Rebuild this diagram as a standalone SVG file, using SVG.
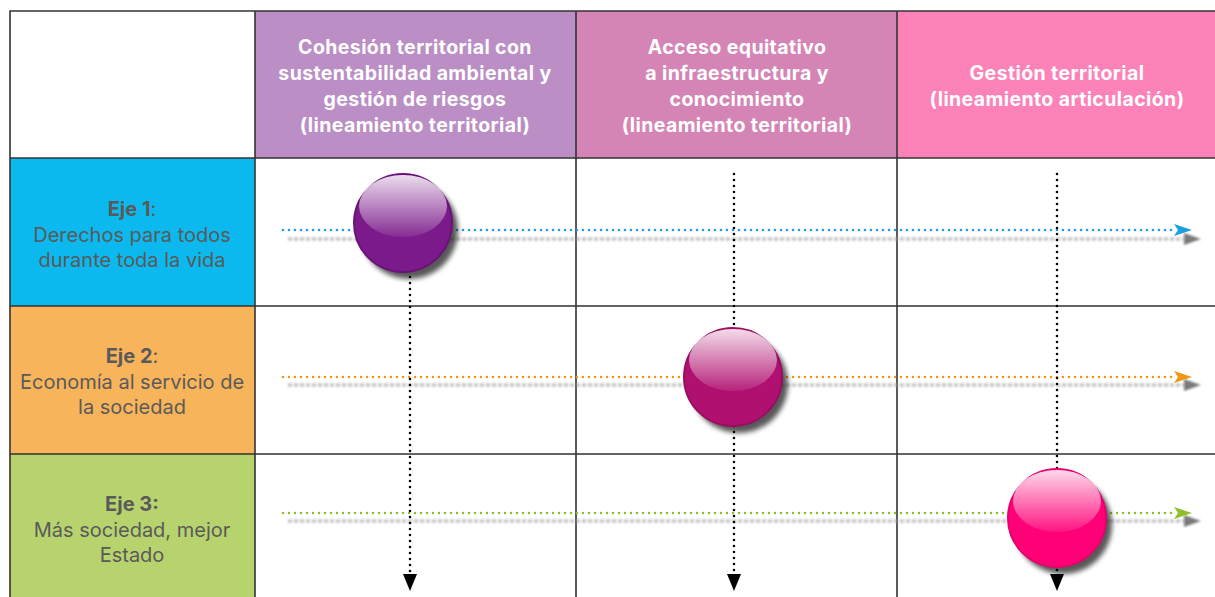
<svg xmlns="http://www.w3.org/2000/svg" width="1215" height="597" viewBox="0 0 1215 597">
<style>
.grid{stroke:#333;stroke-width:1.6;fill:none}
.hd{font-family:Inter,"Liberation Sans",sans-serif;font-weight:700;font-size:19.5px;letter-spacing:0.4px;fill:#fff;text-anchor:middle}
.ax{font-family:Inter,"Liberation Sans",sans-serif;font-size:20px;fill:#5a5a5a;text-anchor:middle}
.ax .b{font-weight:700}
.dot{fill:none;stroke-width:2.6;stroke-linecap:round;stroke-dasharray:0 6}
</style>
<defs>
<filter id="blur" x="-5%" y="-200%" width="110%" height="500%"><feGaussianBlur stdDeviation="1.2"/></filter>
<filter id="ds" x="-30%" y="-30%" width="160%" height="160%"><feGaussianBlur stdDeviation="2.5"/></filter>
<linearGradient id="gl" x1="0" y1="0" x2="0" y2="1">
<stop offset="0" stop-color="#fff" stop-opacity="0.85"/>
<stop offset="1" stop-color="#fff" stop-opacity="0.08"/>
</linearGradient>
<marker id="mb" markerWidth="20" markerHeight="14" refX="2" refY="6" orient="auto" markerUnits="userSpaceOnUse"><path d="M0,0 L18,6 L0,12 L4,6 Z" fill="#1a9fe0"/></marker>
<marker id="mo" markerWidth="20" markerHeight="14" refX="2" refY="6" orient="auto" markerUnits="userSpaceOnUse"><path d="M0,0 L18,6 L0,12 L4,6 Z" fill="#f0960f"/></marker>
<marker id="mg" markerWidth="20" markerHeight="14" refX="2" refY="6" orient="auto" markerUnits="userSpaceOnUse"><path d="M0,0 L18,6 L0,12 L4,6 Z" fill="#8dc02a"/></marker>
<marker id="mk" markerWidth="16" markerHeight="20" refX="7" refY="2" orient="0" markerUnits="userSpaceOnUse"><path d="M0,0 L14,0 L7,17 Z" fill="#000"/></marker>
</defs>

<g id="cells">
<rect x="10" y="11" width="245" height="147" fill="#fff"/>
<rect x="255" y="11" width="321" height="147" fill="#bb8ec5"/>
<rect x="576" y="11" width="321" height="147" fill="#d585b5"/>
<rect x="897" y="11" width="320" height="147" fill="#fc82b8"/>
<rect x="10" y="158" width="245" height="148" fill="#0bb9ee"/>
<rect x="10" y="306" width="245" height="148" fill="#f7b45a"/>
<rect x="10" y="454" width="245" height="145" fill="#b7d36d"/>
<rect x="255" y="158" width="962" height="441" fill="#fff"/>
</g>

<g id="gridlines" class="grid">
<path d="M10,598 V11 H1216"/>
<path d="M255,11 V598 M576,11 V598 M897,11 V598"/>
<path d="M10,158 H1216 M10,306 H1216 M10,454 H1216"/>
</g>

<g id="header-1"><text class="hd"><tspan x="415" y="54">Cohesión territorial con</tspan><tspan x="415" y="80">sustentabilidad ambiental y</tspan><tspan x="415" y="106">gestión de riesgos</tspan><tspan x="415" y="132">(lineamiento territorial)</tspan></text></g>
<g id="header-2"><text class="hd"><tspan x="737" y="54">Acceso equitativo</tspan><tspan x="737" y="80">a infraestructura y</tspan><tspan x="737" y="106">conocimiento</tspan><tspan x="737" y="132">(lineamiento territorial)</tspan></text></g>
<g id="header-3"><text class="hd"><tspan x="1057" y="80">Gestión territorial</tspan><tspan x="1057" y="106">(lineamiento articulación)</tspan></text></g>

<g id="eje-1"><text class="ax"><tspan x="132" y="216"><tspan class="b">Eje 1</tspan>:</tspan><tspan x="132" y="242">Derechos para todos</tspan><tspan x="132" y="267">durante toda la vida</tspan></text></g>
<g id="eje-2"><text class="ax"><tspan x="132" y="363"><tspan class="b">Eje 2</tspan>:</tspan><tspan x="132" y="389">Economía al servicio de</tspan><tspan x="132" y="414">la sociedad</tspan></text></g>
<g id="eje-3"><text class="ax"><tspan x="132" y="511" class="b">Eje 3:</tspan><tspan x="132" y="537">Más sociedad, mejor</tspan><tspan x="132" y="562">Estado</tspan></text></g>

<g id="connectors">
<g filter="url(#blur)" opacity="0.6">
<line x1="288" y1="239" x2="1186" y2="239" stroke="#9a9a9a" stroke-width="3.5" stroke-dasharray="4 2"/>
<path d="M1184,233 L1201,239 L1184,245 Z" fill="#222"/>
<line x1="288" y1="385" x2="1186" y2="385" stroke="#9a9a9a" stroke-width="3.5" stroke-dasharray="4 2"/>
<path d="M1184,379 L1201,385 L1184,391 Z" fill="#222"/>
<line x1="288" y1="521" x2="1186" y2="521" stroke="#9a9a9a" stroke-width="3.5" stroke-dasharray="4 2"/>
<path d="M1184,515 L1201,521 L1184,527 Z" fill="#222"/>
</g>
<line class="dot" x1="283" y1="230" x2="1176" y2="230" stroke="#1a9fe0" marker-end="url(#mb)"/>
<line class="dot" x1="283" y1="377" x2="1176" y2="377" stroke="#f0960f" marker-end="url(#mo)"/>
<line class="dot" x1="283" y1="513" x2="1176" y2="513" stroke="#8dc02a" marker-end="url(#mg)"/>
<line class="dot" x1="410" y1="175" x2="410" y2="576" stroke="#000" marker-end="url(#mk)"/>
<line class="dot" x1="734" y1="174" x2="734" y2="576" stroke="#000" marker-end="url(#mk)"/>
<line class="dot" x1="1057" y1="174" x2="1057" y2="576" stroke="#000" marker-end="url(#mk)"/>
</g>

<g id="sphere-1">
<circle cx="409" cy="230" r="49" fill="#000" opacity="0.65" filter="url(#ds)"/>
<circle cx="403" cy="223" r="49" fill="#7b1a8a" stroke="#6a1278" stroke-width="2"/>
<ellipse cx="403" cy="206" rx="44" ry="31" fill="url(#gl)"/>
</g>
<g id="sphere-2">
<circle cx="739" cy="384" r="49" fill="#000" opacity="0.65" filter="url(#ds)"/>
<circle cx="733" cy="377" r="49" fill="#b0106f" stroke="#9c0c62" stroke-width="2"/>
<ellipse cx="733" cy="360" rx="44" ry="31" fill="url(#gl)"/>
</g>
<g id="sphere-3">
<circle cx="1063" cy="525" r="49" fill="#000" opacity="0.65" filter="url(#ds)"/>
<circle cx="1057" cy="518" r="49" fill="#ff0077" stroke="#e8006c" stroke-width="2"/>
<ellipse cx="1057" cy="501" rx="44" ry="31" fill="url(#gl)"/>
</g>
</svg>
